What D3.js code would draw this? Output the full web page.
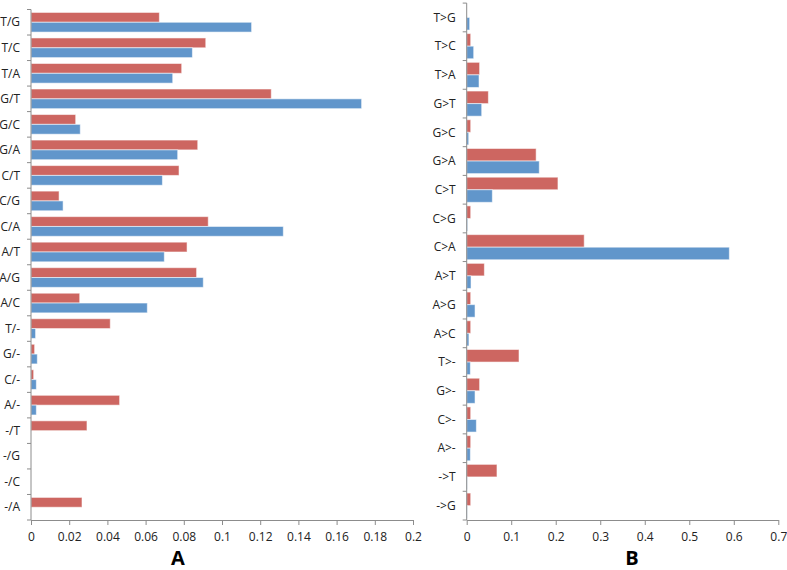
<!DOCTYPE html>
<html><head><meta charset="utf-8">
<script src="https://cdn.jsdelivr.net/npm/d3@7"></script>
<style>body{margin:0;background:#fff;} text{font-family:"Open Sans","Noto Sans",sans-serif;}</style>
</head><body>
<svg id="c" width="787" height="570"></svg>
<script>
const catsA = ["T/G","T/C","T/A","G/T","G/C","G/A","C/T","C/G","C/A","A/T","A/G","A/C","T/-","G/-","C/-","A/-","-/T","-/G","-/C","-/A"];
const redA  = [0.0672,0.0915,0.0789,0.1258,0.0234,0.0873,0.0775,0.0147,0.0928,0.0817,0.0867,0.0255,0.0415,0.0019,0.0014,0.0464,0.0293,0,0,0.0267];
const blueA = [0.1155,0.0845,0.0742,0.1731,0.0258,0.0768,0.0688,0.0168,0.1321,0.0698,0.0902,0.0609,0.0024,0.0033,0.0028,0.0028,0,0,0,0];
const ticksA = [0,0.02,0.04,0.06,0.08,0.1,0.12,0.14,0.16,0.18,0.2];

const catsB = ["T>G","T>C","T>A","G>T","G>C","G>A","C>T","C>G","C>A","A>T","A>G","A>C","T>-","G>-","C>-","A>-","->T","->G"];
const redB  = [0,0.009,0.029,0.0487,0.009,0.156,0.205,0.009,0.264,0.0397,0.009,0.009,0.1175,0.029,0.009,0.009,0.068,0.009];
const blueB = [0.0067,0.0157,0.0277,0.0337,0.0045,0.163,0.0576,0.002,0.590,0.0097,0.0187,0.005,0.0082,0.0187,0.0217,0.0082,0.001,0.001];
const ticksB = [0,0.1,0.2,0.3,0.4,0.5,0.6,0.7];

const RED = "#CD6661", BLUE = "#6196CB", AXIS = "#8c8c8c";
const svg = d3.select("#c");

function panel(cfg){
  const g = svg.append("g");
  const x = d3.scaleLinear().domain([0, cfg.max]).range([cfg.left, cfg.right]);
  const y = d3.scaleBand().domain(cfg.cats).range([cfg.top, cfg.bottom]).paddingInner(cfg.pad).paddingOuter(cfg.pad/2);
  const sub = d3.scaleBand().domain(["red","blue"]).range([0, y.bandwidth()]);
  const step = y.step();
  cfg.cats.forEach((c,i)=>{
    [["red",cfg.red[i],RED],["blue",cfg.blue[i],BLUE]].forEach(([k,v,col])=>{
      if(v<=0) return;
      g.append("rect").attr("x", x(0)).attr("y", y(c)+sub(k))
        .attr("width", x(v)-x(0)).attr("height", sub.bandwidth())
        .attr("fill", col).attr("stroke","#fff").attr("stroke-opacity",0.55).attr("stroke-width",1);
    });
  });
  g.append("line").attr("x1",x(0)).attr("x2",x(0)).attr("y1",cfg.top).attr("y2",cfg.bottom).attr("stroke",AXIS);
  d3.range(cfg.cats.length+1).forEach(i=>{
    const yy = cfg.top + i*step;
    g.append("line").attr("x1",x(0)-4).attr("x2",x(0)).attr("y1",yy).attr("y2",yy).attr("stroke",AXIS);
  });
  cfg.cats.forEach(c=>{
    g.append("text").attr("x", x(0)-11).attr("y", y(c)+y.bandwidth()/2).attr("dy","0.35em")
      .attr("text-anchor","end").attr("font-size",12).attr("fill","#222").text(c);
  });
  const ax = g.append("g").attr("transform",`translate(0,${cfg.bottom})`)
    .call(d3.axisBottom(x).tickValues(cfg.ticks).tickSize(5).tickSizeOuter(0).tickFormat(d=>String(+d.toFixed(2))));
  ax.select(".domain").attr("stroke",AXIS);
  ax.selectAll(".tick line").attr("stroke",AXIS);
  ax.selectAll(".tick text").attr("font-size",12).attr("fill","#222").attr("dy","1.1em")
    .style("font-family",'"Open Sans","Noto Sans",sans-serif');
  g.append("text").attr("x",cfg.titleX).attr("y",565).attr("text-anchor","middle")
    .attr("font-size",20).attr("font-weight","bold").attr("fill","#000").text(cfg.title);
}

panel({cats:catsA, red:redA, blue:blueA, ticks:ticksA, max:0.2, left:31, right:413, top:9.5, bottom:520, pad:0.23, title:"A", titleX:178});
panel({cats:catsB, red:redB, blue:blueB, ticks:ticksB, max:0.7, left:466.7, right:778.3, top:3.1, bottom:520, pad:0.125, title:"B", titleX:632});
</script>
</body></html>
